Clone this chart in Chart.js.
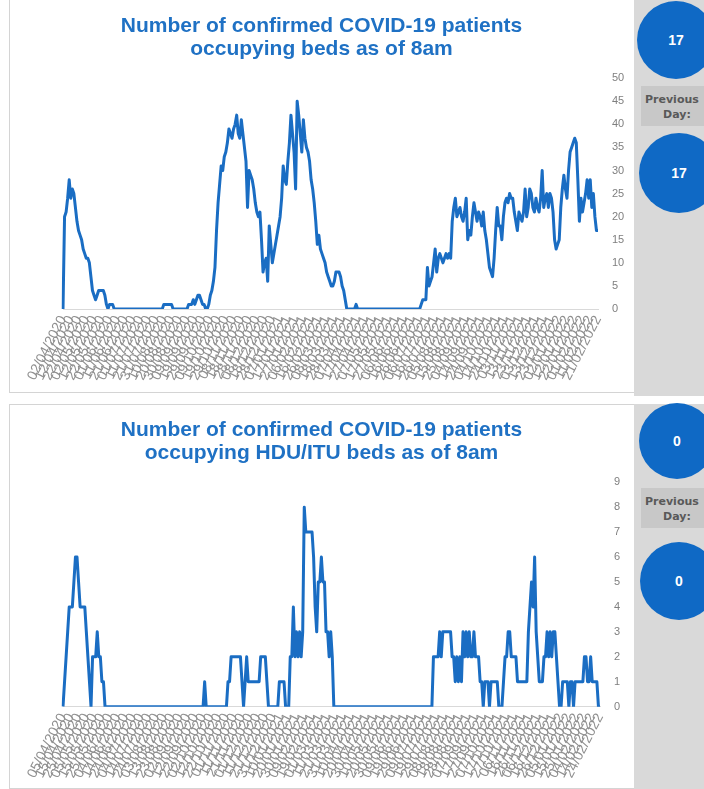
<!DOCTYPE html>
<html>
<head>
<meta charset="utf-8">
<script src="https://cdn.jsdelivr.net/npm/chart.js@4/dist/chart.umd.min.js"></script>
<style>
  html, body { margin: 0; padding: 0; background: #ffffff; }
  #page { position: relative; width: 704px; height: 789px; overflow: hidden; font-family: "Liberation Sans", Arial, sans-serif; }
  .panel { position: absolute; background: #ffffff; border: 1px solid #d4d4d4; box-sizing: border-box; }
  .side { position: absolute; background: #d9d9d9; }
  .dot { position: absolute; border-radius: 50%; background: #0f69c5; color: #ffffff; font-weight: bold; font-size: 14px;
         display: flex; align-items: center; justify-content: center; }
  .prev { position: absolute; background: #c8c8c8; color: #595959; font-family: "DejaVu Sans", sans-serif; font-weight: bold;
          font-size: 11px; line-height: 15px; text-align: left; white-space: nowrap; padding: 6px 0 0 4px; box-sizing: border-box; overflow: hidden; }
  .prev span { display: block; }
  canvas { position: absolute; }
</style>
</head>
<body>
<div id="page">
  <div class="panel" style="left:9px; top:-1px; width:626px; height:394px;"></div>
  <div class="side" style="left:634px; top:0px; width:70px; height:396px;"></div>
  <div class="panel" style="left:9px; top:404px; width:626px; height:385px;"></div>
  <div class="side" style="left:634px; top:404px; width:70px; height:385px;"></div>

  <canvas id="bedsChart" width="625" height="393" style="left:9px; top:0px;"></canvas>
  <canvas id="hduChart" width="625" height="384" style="left:9px; top:404px;"></canvas>

  <div class="dot" id="bedsNow" style="left:637px; top:1px; width:78px; height:78px;"></div>
  <div class="prev" style="left:641px; top:86px; width:70px; height:40px;"><span>Previous</span><span style="padding-left:18px">Day:</span></div>
  <div class="dot" id="bedsPrev" style="left:639px; top:133px; width:80px; height:80px;"></div>

  <div class="dot" id="hduNow" style="left:639px; top:403px; width:76px; height:76px;"></div>
  <div class="prev" style="left:641px; top:488px; width:70px; height:40px;"><span>Previous</span><span style="padding-left:18px">Day:</span></div>
  <div class="dot" id="hduPrev" style="left:640px; top:542px; width:78px; height:78px;"></div>
</div>

<script>
// Patients in beds at 8am, one reading every two days
const bedsValues = [
  0, 20, 21, 24, 28, 24, 26, 25, 22, 19,
  17, 16, 15, 13, 12, 11, 11, 10, 7, 4,
  3, 2, 3, 4, 4, 4, 4, 3, 1, 0,
  1, 1, 1, 0, 0, 0, 0, 0, 0, 0,
  0, 0, 0, 0, 0, 0, 0, 0, 0, 0,
  0, 0, 0, 0, 0, 0, 0, 0, 0, 0,
  0, 0, 0, 0, 0, 1, 1, 1, 1, 1,
  1, 0, 0, 0, 0, 0, 0, 0, 0, 0,
  0, 1, 1, 1, 2, 1, 2, 3, 3, 2,
  1, 1, 0, 0, 1, 3, 4, 6, 9, 17,
  23, 27, 31, 30, 33, 34, 36, 39, 38, 37,
  39, 40, 42, 38, 37, 41, 38, 35, 32, 22,
  30, 29, 28, 26, 23, 21, 20, 21, 15, 8,
  10, 11, 6, 18, 14, 10, 12, 14, 16, 18,
  20, 24, 31, 28, 27, 32, 36, 42, 38, 34,
  26, 45, 42, 38, 34, 41, 37, 35, 34, 32,
  28, 26, 23, 19, 14, 16, 13, 12, 11, 10,
  8, 7, 6, 5, 5, 6, 8, 8, 8, 7,
  5, 4, 2, 0, 0, 0, 0, 0, 0, 1,
  0, 0, 0, 0, 0, 0, 0, 0, 0, 0,
  0, 0, 0, 0, 0, 0, 0, 0, 0, 0,
  0, 0, 0, 0, 0, 0, 0, 0, 0, 0,
  0, 0, 0, 0, 0, 0, 0, 0, 0, 0,
  0, 1, 2, 2, 2, 9, 5, 6, 7, 10,
  13, 8, 11, 12, 11, 10, 11, 12, 11, 12,
  11, 19, 22, 24, 20, 21, 22, 20, 19, 21,
  24, 15, 17, 16, 20, 23, 21, 19, 21, 20,
  18, 21, 17, 15, 12, 9, 8, 7, 11, 17,
  22, 18, 18, 15, 20, 23, 24, 23, 25, 24,
  24, 21, 19, 17, 21, 20, 19, 21, 26, 20,
  22, 26, 25, 22, 21, 24, 22, 21, 24, 30,
  22, 24, 25, 22, 25, 24, 21, 15, 13, 14,
  15, 22, 26, 29, 26, 24, 30, 34, 35, 36,
  37, 36, 28, 19, 24, 21, 23, 25, 28, 24,
  28, 22, 25, 20, 17, 17
];

// Patients in HDU/ITU beds at 8am, one reading every two days
const hduValues = [
  0, 1, 2, 3, 4, 4, 4, 5, 6, 6,
  5, 4, 4, 4, 4, 3, 2, 1, 0, 2,
  2, 2, 3, 2, 2, 1, 1, 0, 0, 0,
  0, 0, 0, 0, 0, 0, 0, 0, 0, 0,
  0, 0, 0, 0, 0, 0, 0, 0, 0, 0,
  0, 0, 0, 0, 0, 0, 0, 0, 0, 0,
  0, 0, 0, 0, 0, 0, 0, 0, 0, 0,
  0, 0, 0, 0, 0, 0, 0, 0, 0, 0,
  0, 0, 0, 0, 0, 0, 0, 0, 0, 0,
  0, 1, 0, 0, 0, 0, 0, 0, 0, 0,
  0, 0, 0, 0, 0, 0, 1, 1, 2, 2,
  2, 2, 2, 2, 2, 1, 0, 1, 2, 1,
  1, 1, 1, 1, 1, 1, 1, 2, 2, 2,
  2, 1, 0, 0, 0, 0, 0, 0, 0, 1,
  1, 1, 1, 0, 0, 0, 2, 2, 4, 2,
  3, 2, 3, 2, 3, 8, 7, 7, 7, 7,
  7, 6, 4, 3, 5, 5, 6, 5, 5, 3,
  3, 2, 3, 2, 0, 0, 0, 0, 0, 0,
  0, 0, 0, 0, 0, 0, 0, 0, 0, 0,
  0, 0, 0, 0, 0, 0, 0, 0, 0, 0,
  0, 0, 0, 0, 0, 0, 0, 0, 0, 0,
  0, 0, 0, 0, 0, 0, 0, 0, 0, 0,
  0, 0, 0, 0, 0, 0, 0, 0, 0, 0,
  0, 0, 0, 0, 0, 0, 0, 0, 2, 2,
  2, 2, 3, 2, 3, 3, 3, 3, 3, 3,
  2, 2, 1, 2, 1, 2, 1, 3, 2, 3,
  2, 3, 2, 2, 3, 2, 2, 2, 1, 1,
  0, 1, 1, 1, 0, 1, 1, 1, 1, 1,
  0, 0, 0, 1, 2, 2, 3, 3, 2, 2,
  2, 2, 1, 1, 1, 1, 1, 1, 1, 3,
  4, 5, 4, 6, 3, 2, 1, 1, 1, 2,
  2, 3, 2, 3, 2, 3, 3, 2, 1, 0,
  0, 1, 1, 1, 1, 0, 1, 1, 0, 1,
  1, 1, 1, 1, 1, 2, 2, 1, 1, 2,
  1, 1, 1, 1, 0, 0
];

// Previous-day readings shown in the side panels
const bedsPreviousDay = 17;
const hduPreviousDay = 0;

// Titles
const bedsTitle = ["Number of confirmed COVID-19 patients", "occupying beds as of 8am"];
const hduTitle = ["Number of confirmed COVID-19 patients", "occupying HDU/ITU beds as of 8am"];

// Date categories (dd/mm/yyyy), two days apart; every fifth one is labelled
function dateLabels(startY, startM, startD, count, stepDays) {
  const out = [];
  for (let i = 0; i < count; i++) {
    const d = new Date(Date.UTC(startY, startM - 1, startD + i * stepDays));
    const dd = String(d.getUTCDate()).padStart(2, "0");
    const mm = String(d.getUTCMonth() + 1).padStart(2, "0");
    out.push(dd + "/" + mm + "/" + d.getUTCFullYear());
  }
  return out;
}
const bedsDates = dateLabels(2020, 4, 2, bedsValues.length, 2);
const hduDates = dateLabels(2020, 4, 5, hduValues.length, 2);
const LABEL_EVERY = 5;

const BLUE = "#1a6dc3";
const AXIS_GREY = "#7f7f7f";
const FONT = "'Liberation Sans', Arial, sans-serif";

function makeChart(canvasId, labels, values, title, yMax, yStep, plotBottom, leftSpace, yWidth) {
  return new Chart(document.getElementById(canvasId), {
    type: "line",
    data: {
      labels: labels,
      datasets: [{
        data: values,
        yAxisID: "y",
        borderColor: BLUE,
        borderWidth: 3,
        pointRadius: 0,
        tension: 0,
        fill: false,
        borderJoinStyle: "round"
      }]
    },
    options: {
      responsive: false,
      animation: false,
      devicePixelRatio: 1,
      layout: { padding: 0 },
      plugins: {
        legend: { display: false },
        tooltip: { enabled: false },
        title: {
          display: true,
          text: title,
          color: "#1f71c4",
          font: { family: FONT, size: 21, weight: "bold", lineHeight: 1.1 },
          padding: { top: 15, bottom: 17 }
        }
      },
      scales: {
        x: {
          type: "category",
          grid: { display: false, drawTicks: false },
          border: { display: true, color: "#d9d9d9", width: 1 },
          ticks: {
            autoSkip: false,
            minRotation: 63,
            maxRotation: 63,
            padding: 4,
            color: "#8f8f8f",
            font: { family: FONT, size: 14 },
            callback: (v, i) => (i % LABEL_EVERY === 0 ? labels[i] : null)
          },
          afterFit: (scale) => { scale.height = scale.chart.height - plotBottom; }
        },
        y: {
          position: "right",
          min: 0,
          max: yMax,
          grid: { display: false, drawTicks: false },
          border: { display: false },
          ticks: {
            stepSize: yStep,
            padding: 14,
            color: AXIS_GREY,
            font: { family: FONT, size: 11 }
          },
          afterFit: (scale) => { scale.width = yWidth; }
        },
        // empty margin on the left of the plot
        gutter: {
          type: "linear",
          position: "left",
          grid: { display: false, drawTicks: false },
          border: { display: false },
          ticks: { display: false },
          afterFit: (scale) => { scale.width = leftSpace; }
        }
      }
    }
  });
}

makeChart("bedsChart", bedsDates, bedsValues, bedsTitle, 50, 5, 309, 54, 36);
makeChart("hduChart", hduDates, hduValues, hduTitle, 9, 1, 302.7, 54, 34);

// Side panel readings: latest value is the last point of each series
document.getElementById("bedsNow").textContent = bedsValues[bedsValues.length - 1];
document.getElementById("bedsPrev").textContent = bedsPreviousDay;
document.getElementById("hduNow").textContent = hduValues[hduValues.length - 1];
document.getElementById("hduPrev").textContent = hduPreviousDay;
</script>
</body>
</html>
